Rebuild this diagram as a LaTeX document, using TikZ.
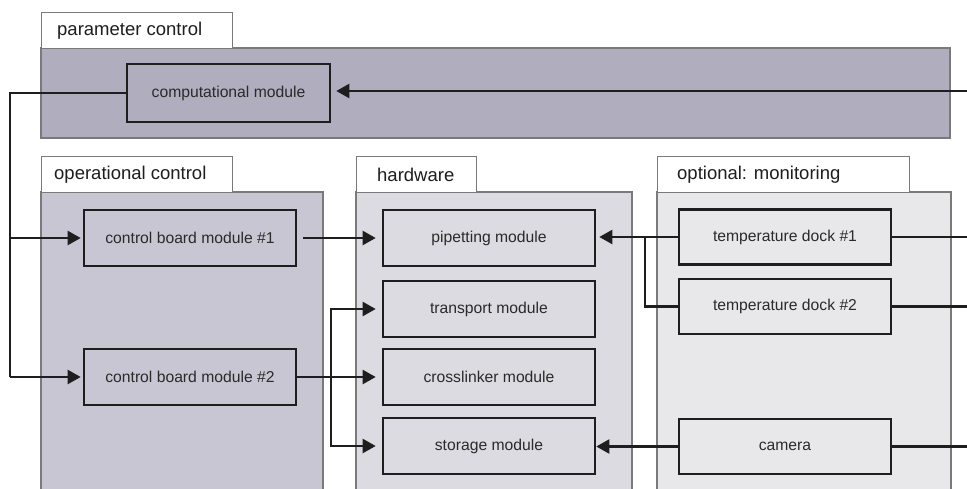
\documentclass[tikz,border=0pt]{standalone}
\usepackage{fontspec}
\setmainfont{Liberation Sans}
\usetikzlibrary{arrows.meta,calc}
\definecolor{pparam}{HTML}{AFADBE}
\definecolor{pop}{HTML}{C8C6D2}
\definecolor{phw}{HTML}{DCDBE1}
\definecolor{pmon}{HTML}{E8E8EA}
\definecolor{edgegray}{HTML}{7A7A7A}
\definecolor{ink}{HTML}{1E1E1E}
\definecolor{txt}{HTML}{2A2A2A}
\tikzset{
  panel/.style={draw=edgegray, line width=1.4pt},
  tabbox/.style={draw=edgegray, line width=1.2pt, fill=white, anchor=north west, minimum height=36pt, inner sep=0pt},
  tablabel/.style={anchor=west, inner sep=0pt, text=ink, font=\fontsize{18.5}{20}\selectfont},
  modbox/.style={draw=ink, line width=2.6pt, minimum width=212pt, minimum height=56pt, inner sep=0pt, text=txt, font=\fontsize{15.7}{18}\selectfont},
  conn/.style={draw=ink, line width=2.2pt},
  arr/.style={conn, -{Triangle[length=13pt,width=14pt]}},
}
\begin{document}
\begin{tikzpicture}[x=1pt,y=-1pt]
\useasboundingbox (0,0) rectangle (967,488);
% panels
\path[panel, fill=pparam] (41,48) rectangle (950,138);
\path[panel, fill=pop] (41,492) -- (41,192) -- (323,192) -- (323,492);
\path[panel, fill=phw] (356,492) -- (356,192) -- (632,192) -- (632,492);
\path[panel, fill=pmon] (657,492) -- (657,192) -- (951,192) -- (951,492);
% tabs
\node[tabbox, minimum width=191pt] (tparam) at (41,12) {};
\node[tablabel] (lparam) at ($(tparam.west)+(16,0)$) {parameter control};
\node[tabbox, minimum width=191pt] (top) at (41,156) {};
\node[tablabel] (lop) at ($(top.west)+(13,0)$) {operational control};
\node[tabbox, minimum width=120pt] (thw) at (356,156) {};
\node[tablabel] (lhw) at ($(thw.west)+(21,0)$) {hardware};
\node[tabbox, minimum width=252pt] (tmon) at (657,156) {};
\node[tablabel] (lmon) at ($(tmon.west)+(20,0)$) {optional: monitoring};
% modules
\node[modbox, minimum width=203pt, minimum height=58pt] (comp) at (228.5,93) {computational module};
\node[modbox] (cbm1) at (190,238) {control board module \#1};
\node[modbox] (cbm2) at (190,377) {control board module \#2};
\node[modbox] (pip) at (489,238) {pipetting module};
\node[modbox] (trans) at (489,309) {transport module};
\node[modbox] (cross) at (489,377) {crosslinker module};
\node[modbox] (stor) at (489,446) {storage module};
\node[modbox, minimum height=55pt] (td1) at (785,237) {temperature dock \#1};
\node[modbox, minimum height=55pt] (td2) at (785,306.5) {temperature dock \#2};
\node[modbox, minimum height=55pt] (cam) at (785,446.5) {camera};
% free ends and junctions
\coordinate (inComp) at (967,91);
\coordinate (lftTop) at (10,93);
\coordinate (lftBot) at (10,377);
\coordinate (jA) at (10,238);
\coordinate (jB) at (331,377);
\coordinate (jC) at (645,237);
\coordinate (outT1) at (967,237);
\coordinate (outT2) at (967,306.5);
\coordinate (outC) at (967,446.5);
% connectors
\draw[arr, shorten >=5pt] (inComp) -- (inComp -| comp.east);
\draw[conn] (comp.west) -- (lftTop) -- (lftBot);
\draw[arr, shorten >=2pt] (jA) -- (cbm1.west);
\draw[arr, shorten >=2pt] (lftBot) -- (cbm2.west);
\draw[arr, shorten <=6pt, shorten >=6pt] (cbm1.east) -- (pip.west);
\draw[arr, shorten >=6pt] (cbm2.east) -- (cross.west);
\draw[arr, shorten >=6pt] (jB) |- (trans.west);
\draw[arr, shorten >=6pt] (jB) |- (stor.west);
\draw[arr, shorten >=3pt] (td1.west) -- (td1.west -| pip.east);
\draw[conn] (jC) |- (td2.west);
\draw[arr] (cam.west) -- (cam.west -| stor.east);
\draw[conn] (td1.east) -- (outT1);
\draw[conn] (td2.east) -- (outT2);
\draw[conn] (cam.east) -- (outC);
\end{tikzpicture}
\end{document}
